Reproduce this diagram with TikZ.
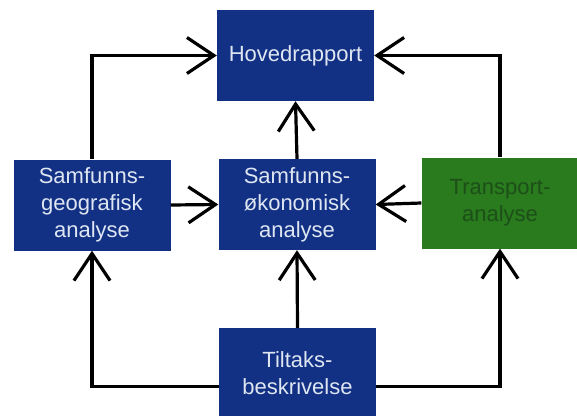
\documentclass[tikz,border=0pt]{standalone}
\usepackage{fontspec}
\setmainfont{Liberation Sans}
\usetikzlibrary{arrows.meta}
\definecolor{boksblaa}{RGB}{18,48,132}
\definecolor{boksgronn}{RGB}{42,122,30}
\definecolor{tekstlys}{RGB}{222,230,242}
\definecolor{tekstmork}{RGB}{28,80,24}
\begin{document}
\begin{tikzpicture}[x=1pt, y=-1pt,
        boks/.style={fill=boksblaa, text=tekstlys, minimum width=157pt, minimum height=91pt,
            inner sep=0pt, align=center, font=\fontsize{22}{27}\selectfont},
        gronnboks/.style={boks, fill=boksgronn, text=tekstmork},
        pil/.style={line width=3.2pt, -{Straight Barb[length=27pt, width=36pt]}}]
        % Ramme
        \useasboundingbox (0,0) rectangle (577,415);

        % Bokser
        \node[boks] (hoved) at (295.5, 55.5) {Hovedrapport};
        \node[boks] (geo) at (92, 205) {Samfunns-\\geografisk\\analyse};
        \node[boks] (oko) at (297, 204.5) {Samfunns-\\økonomisk\\analyse};
        \node[gronnboks] (transport) at (500, 203) {Transport-\\analyse};
        \node[boks] (tiltak) at (297.5, 373.5) {Tiltaks-\\beskrivelse};

        % Piler til hovedrapporten
        \draw[pil] (geo.north) |- (hoved.west);
        \draw[pil] (transport.north) |- (hoved.east);
        \draw[pil] (oko.north) -- (hoved.south);

        % Piler i midtre rad
        \draw[pil] (geo.east) -- (oko.west);
        \draw[pil] (transport.west) -- (oko.east);

        % Piler fra tiltaksbeskrivelsen
        \draw[pil] (tiltak.north) -- (oko.south);
        \draw[pil] ([yshift=-13pt]tiltak.west) -| (geo.south);
        \draw[pil] ([yshift=-13pt]tiltak.east) -| (transport.south);
\end{tikzpicture}
\end{document}
